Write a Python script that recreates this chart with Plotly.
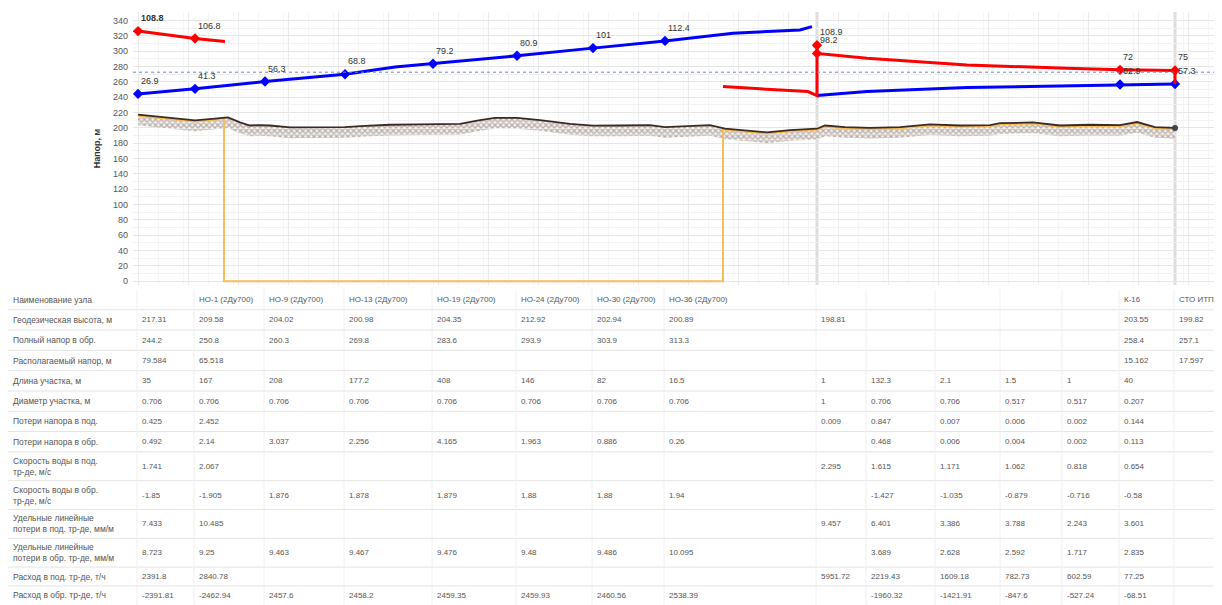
import plotly.graph_objects as go

# ---------------- profile data (x = position along the route, profile units)
node_x = [5, 62, 132, 212, 300, 384, 460, 532, 684, 734, 803, 868, 930, 987, 1042]

ground_x = [5, 27, 62, 82, 95, 107, 117, 125, 137, 157, 187, 212, 232, 257, 287, 300,
            327, 347, 362, 384, 407, 437, 460, 487, 517, 532, 557, 577, 592, 617, 634, 657,
            684, 692, 712, 737, 767, 797, 827, 857, 867, 900, 927, 957, 987, 1004, 1022, 1042]
ground_y = [217.3, 214.6, 209.6, 212.0, 213.5, 207.0, 203.0, 203.5, 203.0, 200.5, 200.3, 201.0,
            202.5, 204.0, 204.5, 204.4, 205.0, 210.0, 213.0, 212.9, 210.0, 205.0, 202.9, 203.0,
            203.5, 200.9, 202.0, 203.5, 199.0, 196.0, 194.0, 197.0, 198.8, 203.0, 201.0, 200.0,
            201.0, 204.5, 203.0, 203.5, 206.0, 207.0, 203.0, 204.0, 203.55, 207.5, 201.0, 199.8]

pipe_drop_x = [91, 590]
pipe_drop_top = [213.0, 199.5]
pipe_drop_level = 0

ret_x = [5, 62, 132, 212, 262, 300, 384, 460, 532, 600, 667, 679, None, 684, 734, 834, 987, 1042]
ret_y = [244.2, 250.8, 260.3, 269.8, 279.2, 283.6, 293.9, 303.9, 313.3, 323.3, 327.6, 332.0, None,
         242.0, 247.2, 252.4, 256.5, 257.1]

sup_x = [5, 62, 92, None, 590, 675, 684, 684, 684, 734, 834, 934, 987, 1042, 1042]
sup_y = [326.1, 316.4, 312.5, None, 253.7, 247.2, 242.0, 307.7, 297.0, 290.7, 282.0, 277.6,
         275.55, 274.8, 257.1]

ret_pts_x = [5, 62, 132, 212, 300, 384, 460, 532, 987, 1042]
ret_pts_y = [244.2, 250.8, 260.3, 269.8, 283.6, 293.9, 303.9, 313.3, 256.5, 257.1]
ret_pts_lbl = ["26.9", "41.3", "56.3", "68.8", "79.2", "80.9", "101", "112.4", "62.9", "57.3"]

sup_pts_x = [5, 62, 684, 684, 987, 1042]
sup_pts_y = [326.1, 316.4, 307.7, 297.0, 275.55, 274.8]
sup_pts_lbl = ["108.8", "106.8", "108.9", "98.2", "72", "75"]

static_head = 272.5
source_nodes = [684, 1042]

# ---------------- table data
row_labels = [
    "Наименование узла",
    "Геодезическая высота, м",
    "Полный напор в обр.",
    "Располагаемый напор, м",
    "Длина участка, м",
    "Диаметр участка, м",
    "Потери напора в под.",
    "Потери напора в обр.",
    "Скорость воды в под.<br>тр-де, м/с",
    "Скорость воды в обр.<br>тр-де, м/с",
    "Удельные линейные<br>потери в под. тр-де, мм/м",
    "Удельные линейные<br>потери в обр. тр-де, мм/м",
    "Расход в под. тр-де, т/ч",
    "Расход в обр. тр-де, т/ч",
]
node_names = ["", "НО-1 (2Ду700)", "НО-9 (2Ду700)", "НО-13 (2Ду700)", "НО-19 (2Ду700)",
              "НО-24 (2Ду700)", "НО-30 (2Ду700)", "НО-36 (2Ду700)", "", "", "", "", "",
              "К-16", "СТО ИТП"]
geo_height = ["217.31", "209.58", "204.02", "200.98", "204.35", "212.92", "202.94", "200.89",
              "198.81", "", "", "", "", "203.55", "199.82"]
full_head_ret = ["244.2", "250.8", "260.3", "269.8", "283.6", "293.9", "303.9", "313.3",
                 "", "", "", "", "", "258.4", "257.1"]
avail_head = ["79.584", "65.518", "", "", "", "", "", "", "", "", "", "", "", "15.162", "17.597"]
seg_length = ["35", "167", "208", "177.2", "408", "146", "82", "16.5", "1", "132.3", "2.1",
              "1.5", "1", "40", ""]
seg_diam = ["0.706", "0.706", "0.706", "0.706", "0.706", "0.706", "0.706", "0.706", "1",
            "0.706", "0.706", "0.517", "0.517", "0.207", ""]
loss_sup = ["0.425", "2.452", "", "", "", "", "", "", "0.009", "0.847", "0.007", "0.006",
            "0.002", "0.144", ""]
loss_ret = ["0.492", "2.14", "3.037", "2.256", "4.165", "1.963", "0.886", "0.26", "",
            "0.468", "0.006", "0.004", "0.002", "0.113", ""]
vel_sup = ["1.741", "2.067", "", "", "", "", "", "", "2.295", "1.615", "1.171", "1.062",
           "0.818", "0.654", ""]
vel_ret = ["-1.85", "-1.905", "1.876", "1.878", "1.879", "1.88", "1.88", "1.94", "",
           "-1.427", "-1.035", "-0.879", "-0.716", "-0.58", ""]
spec_sup = ["7.433", "10.485", "", "", "", "", "", "", "9.457", "6.401", "3.386", "3.788",
            "2.243", "3.601", ""]
spec_ret = ["8.723", "9.25", "9.463", "9.467", "9.476", "9.48", "9.486", "10.095", "",
            "3.689", "2.628", "2.592", "1.717", "2.835", ""]
flow_sup = ["2391.8", "2840.78", "", "", "", "", "", "", "5951.72", "2219.43", "1609.18",
            "782.73", "602.59", "77.25", ""]
flow_ret = ["-2391.81", "-2462.94", "2457.6", "2458.2", "2459.35", "2459.93", "2460.56",
            "2538.39", "", "-1960.32", "-1421.91", "-847.6", "-527.24", "-68.51", ""]

table_rows = [node_names, geo_height, full_head_ret, avail_head, seg_length, seg_diam,
              loss_sup, loss_ret, vel_sup, vel_ret, spec_sup, spec_ret, flow_sup, flow_ret]

# ---------------- geometry (page pixels; the page body adds an 8px offset)
PAGE_W, PAGE_H, BODY = 1222, 605, 8
W, H = PAGE_W - BODY, PAGE_H - BODY
PLOT_TOP, PLOT_LEFT, PLOT_BOTTOM = 12, 133, 285
PAPER_H = PAGE_H - PLOT_TOP


def py(p):  # page pixel row -> paper y
    return (PAGE_H - p) / PAPER_H


def px(p):  # page pixel column -> paper x
    return (p - BODY) / W


FONT = "Liberation Sans, Arial, sans-serif"
hatch_depth = 14
pipe_offset = 1.5

fig = go.Figure()

# ground hatch band
fig.add_trace(go.Scatter(x=ground_x, y=[g - hatch_depth for g in ground_y], mode="lines",
                         line=dict(width=0), hoverinfo="skip", showlegend=False))
fig.add_trace(go.Scatter(x=ground_x, y=ground_y, mode="lines", fill="tonexty",
                         fillcolor="rgba(0,0,0,0)", line=dict(width=0),
                         fillpattern=dict(shape="x", fgcolor="#7d6e66", bgcolor="#f4f1ef",
                                          size=4, solidity=0.55),
                         hoverinfo="skip", showlegend=False))

# pipe line (orange)
pipe_x = ([gx for gx in ground_x if gx <= pipe_drop_x[0]]
          + [pipe_drop_x[0], pipe_drop_x[0], pipe_drop_x[1], pipe_drop_x[1]]
          + [gx for gx in ground_x if gx >= pipe_drop_x[1]])
pipe_y = ([gy - pipe_offset for gx, gy in zip(ground_x, ground_y) if gx <= pipe_drop_x[0]]
          + [pipe_drop_top[0], pipe_drop_level, pipe_drop_level, pipe_drop_top[1]]
          + [gy - pipe_offset for gx, gy in zip(ground_x, ground_y) if gx >= pipe_drop_x[1]])
fig.add_trace(go.Scatter(x=pipe_x, y=pipe_y, mode="lines",
                         line=dict(color="#f5bd5c", width=2), showlegend=False))

# ground line
fig.add_trace(go.Scatter(x=ground_x, y=ground_y, mode="lines",
                         line=dict(color="#3a2a22", width=1.8), showlegend=False))
fig.add_trace(go.Scatter(x=[ground_x[-1]], y=[ground_y[-1]], mode="markers",
                         marker=dict(color="#444", size=6), showlegend=False))

# return (blue) and supply (red)
fig.add_trace(go.Scatter(x=ret_x, y=ret_y, mode="lines", line=dict(color="#0000ff", width=3),
                         connectgaps=False, showlegend=False))
fig.add_trace(go.Scatter(x=ret_pts_x, y=ret_pts_y, mode="markers",
                         marker=dict(color="#0000ff", size=8, symbol="diamond"), showlegend=False))
fig.add_trace(go.Scatter(x=sup_x, y=sup_y, mode="lines", line=dict(color="#ff0000", width=3),
                         connectgaps=False, showlegend=False))
fig.add_trace(go.Scatter(x=sup_pts_x, y=sup_pts_y, mode="markers",
                         marker=dict(color="#ff0000", size=8, symbol="diamond"), showlegend=False))

# point labels
for i, (lx, ly, lt) in enumerate(zip(sup_pts_x, sup_pts_y, sup_pts_lbl)):
    fig.add_annotation(x=lx, y=ly, text=("<b>%s</b>" % lt) if i == 0 else lt, showarrow=False,
                       xanchor="left", yanchor="middle", xshift=1, yshift=13,
                       font=dict(family=FONT, size=9, color="#333"))
for lx, ly, lt in zip(ret_pts_x, ret_pts_y, ret_pts_lbl):
    fig.add_annotation(x=lx, y=ly, text=lt, showarrow=False, xanchor="left",
                       yanchor="middle", xshift=1, yshift=13,
                       font=dict(family=FONT, size=9, color="#333"))

shapes = []
# static head dotted line
shapes.append(dict(type="line", xref="x domain", yref="y", x0=0, x1=1, y0=static_head,
                   y1=static_head, line=dict(color="#7088c0", width=1, dash="dot")))
# source node bands
for sx in source_nodes:
    shapes.append(dict(type="line", xref="x", yref="y domain", x0=sx, x1=sx, y0=0, y1=1,
                       line=dict(color="#dedede", width=3), layer="below"))

# ---------------- table
row_h = [20.3] * 8 + [28.8] * 4 + [18.8] * 2
tab_top = 289.5
edges = [tab_top]
for h in row_h:
    edges.append(edges[-1] + h)

for r, (lab, vals) in enumerate(zip(row_labels, table_rows)):
    yc = (edges[r] + edges[r + 1]) / 2
    fig.add_annotation(xref="paper", yref="paper", x=px(11), y=py(yc), text=lab,
                       showarrow=False, xanchor="left", yanchor="middle", align="left",
                       font=dict(family=FONT, size=8.5, color="#555"))
    for cx, v in zip(node_x, vals):
        if v == "":
            continue
        fig.add_annotation(xref="x", yref="paper", x=cx, y=py(yc), text=v, showarrow=False,
                           xanchor="left", yanchor="middle", xshift=2,
                           font=dict(family=FONT, size=8, color="#555"))

for e in edges[1:-1]:
    shapes.append(dict(type="line", xref="paper", yref="paper", x0=0, x1=1, y0=py(e),
                       y1=py(e), line=dict(color="#e4e4e4", width=1)))
for cx in node_x:
    shapes.append(dict(type="line", xref="x", yref="paper", x0=cx - 1, x1=cx - 1,
                       y0=py(tab_top), y1=0, line=dict(color="#f0f0f0", width=1)))

fig.update_layout(
    width=W, height=H,
    margin=dict(l=0, r=0, t=PLOT_TOP - BODY, b=0),
    paper_bgcolor="white", plot_bgcolor="white",
    showlegend=False,
    shapes=shapes,
    xaxis=dict(domain=[px(PLOT_LEFT), 1], range=[0, PAGE_W - PLOT_LEFT], showticklabels=False,
               ticks="", showgrid=True, gridcolor="#ebebeb", dtick=50, tick0=5,
               zeroline=False, showline=False, automargin=False,
               minor=dict(dtick=25, showgrid=True, gridcolor="#f5f5f5")),
    yaxis=dict(domain=[py(PLOT_BOTTOM), 1], range=[-5, 351], dtick=20, tick0=0,
               showgrid=True, gridcolor="#e6e6e6", zeroline=False, showline=False,
               ticks="", ticklabelstandoff=4, automargin=False,
               tickfont=dict(family=FONT, size=9, color="#555"),
               minor=dict(dtick=10, showgrid=True, gridcolor="#f2f2f2"),
               title=dict(text="<b>Напор, м</b>", standoff=10,
                          font=dict(family=FONT, size=9, color="#333"))),
)

fig.write_html("out.html")
